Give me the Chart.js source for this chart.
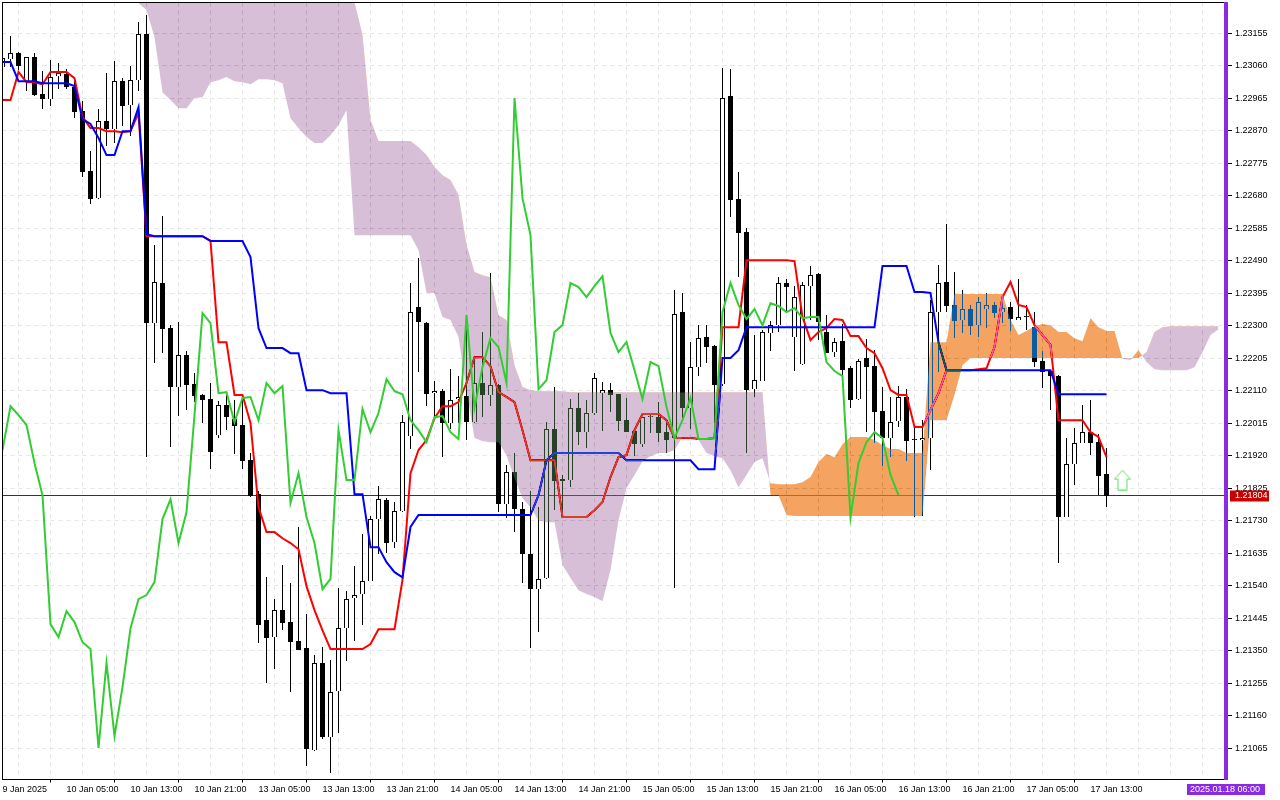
<!DOCTYPE html>
<html><head><meta charset="utf-8">
<style>html,body{margin:0;padding:0;background:#fff}canvas{display:block}</style>
<script src="https://cdn.jsdelivr.net/npm/chart.js@4/dist/chart.umd.min.js"></script>
</head><body><canvas id="c" width="1280" height="800"></canvas>
<script>
const xLabels=["9 Jan 2025","10 Jan 05:00","10 Jan 13:00","10 Jan 21:00","13 Jan 05:00","13 Jan 13:00","13 Jan 21:00","14 Jan 05:00","14 Jan 13:00","14 Jan 21:00","15 Jan 05:00","15 Jan 13:00","15 Jan 21:00","16 Jan 05:00","16 Jan 13:00","16 Jan 21:00","17 Jan 05:00","17 Jan 13:00"];
const yTicks=[1.21065,1.21160,1.21255,1.21350,1.21445,1.21540,1.21635,1.21730,1.21825,1.21920,1.22015,1.22110,1.22205,1.22300,1.22395,1.22490,1.22585,1.22680,1.22775,1.22870,1.22965,1.23060,1.23155];
const lastPrice=1.21804;
const dateTag="2025.01.18 06:00";
const opens=[1.23056,1.23080,1.23097,1.23015,1.23085,1.22977,1.22963,1.23030,1.23036,1.22998,
1.22928,1.22752,1.22673,1.22898,1.22875,1.23015,1.22945,1.23018,1.23153,1.22308,
1.22425,1.22293,1.22121,1.22214,1.22130,1.22098,1.22086,1.21980,1.22068,1.22027,
1.22010,1.21907,1.21808,1.21440,1.21390,1.21469,1.21434,1.21378,1.21358,1.21060,
1.21314,1.21098,1.21232,1.21416,1.21504,1.21516,1.21554,1.21735,1.21791,1.21668,
1.21758,1.21978,1.22355,1.22308,1.22103,1.22109,1.22016,1.22086,1.22095,1.22018,
1.22133,1.22098,1.22127,1.21779,1.21873,1.21764,1.21633,1.21530,1.21563,1.21998,
1.21852,1.21849,1.22060,1.21989,1.22045,1.22103,1.22112,1.22100,1.22024,1.21992,
1.21954,1.22033,1.22033,1.21989,1.21972,1.22340,1.22060,1.22179,1.22267,1.22241,
1.22130,1.22971,1.22670,1.22574,1.22115,1.22138,1.22279,1.22302,1.22425,1.22267,
1.22188,1.22416,1.22451,1.22282,1.22223,1.22255,1.22176,1.22086,1.22206,1.22182,
1.22051,1.21972,1.22021,1.22092,1.21969,1.21966,1.21972,1.22340,1.22428,1.22361,
1.22317,1.22349,1.22302,1.22349,1.22361,1.22340,1.22355,1.22317,1.22328,1.22296,
1.22197,1.22168,1.22153,1.21741,1.21896,1.21957,1.21989,1.21960,1.21867];
const closes=[1.23082,1.23097,1.23059,1.23085,1.22974,1.22963,1.23027,1.23039,1.22998,1.22925,
1.22749,1.22670,1.22898,1.22875,1.23015,1.22942,1.23018,1.23153,1.22308,1.22428,
1.22290,1.22121,1.22214,1.22127,1.22095,1.22083,1.21931,1.22068,1.22033,1.22007,
1.21904,1.21802,1.21425,1.21387,1.21469,1.21431,1.21375,1.21352,1.21063,1.21314,
1.21098,1.21229,1.21416,1.21501,1.21513,1.21554,1.21735,1.21793,1.21665,1.21758,
1.22018,1.22340,1.22311,1.22100,1.22109,1.22016,1.22083,1.22092,1.22018,1.22133,
1.22098,1.22127,1.21779,1.21873,1.21764,1.21633,1.21530,1.21560,1.21998,1.21846,
1.21846,1.22060,1.21989,1.22045,1.22147,1.22112,1.22098,1.22021,1.21989,1.21954,
1.22033,1.22036,1.21986,1.21966,1.22334,1.22060,1.22179,1.22264,1.22238,1.22127,
1.22966,1.22668,1.22571,1.22112,1.22141,1.22282,1.22302,1.22425,1.22413,1.22384,
1.22419,1.22448,1.22311,1.22220,1.22252,1.22170,1.22083,1.22197,1.22179,1.22048,
1.21972,1.22018,1.22092,1.21963,1.21966,1.21972,1.22340,1.22425,1.22358,1.22314,
1.22349,1.22299,1.22369,1.22361,1.22337,1.22352,1.22320,1.22326,1.22326,1.22194,
1.22165,1.22153,1.21741,1.21896,1.21957,1.21989,1.21957,1.21861,1.21804];
const highs=[1.23082,1.23147,1.23100,1.23085,1.23097,1.23044,1.23077,1.23068,1.23050,1.23024,
1.22957,1.22811,1.22933,1.23039,1.23074,1.23024,1.23059,1.23188,1.23208,1.22536,
1.22621,1.22302,1.22311,1.22226,1.22162,1.22100,1.22133,1.22080,1.22098,1.22083,
1.22089,1.21928,1.21817,1.21565,1.21501,1.21601,1.21548,1.21712,1.21457,1.21337,
1.21361,1.21323,1.21533,1.21525,1.21598,1.21691,1.21744,1.21831,1.21796,1.21785,
1.22039,1.22425,1.22498,1.22311,1.22138,1.22115,1.22173,1.22153,1.22331,1.22200,
1.22282,1.22454,1.22130,1.21893,1.21928,1.21785,1.21817,1.21770,1.22018,1.22121,
1.21864,1.22086,1.22103,1.22083,1.22162,1.22135,1.22133,1.22100,1.22089,1.21998,
1.22033,1.22045,1.22077,1.22016,1.22404,1.22396,1.22252,1.22302,1.22302,1.22244,
1.23053,1.23050,1.22749,1.22586,1.22273,1.22287,1.22314,1.22442,1.22436,1.22416,
1.22428,1.22475,1.22454,1.22331,1.22264,1.22305,1.22182,1.22203,1.22261,1.22229,
1.22121,1.22092,1.22124,1.22115,1.22001,1.22024,1.22375,1.22477,1.22597,1.22457,
1.22404,1.22361,1.22384,1.22396,1.22369,1.22390,1.22369,1.22436,1.22361,1.22340,
1.22226,1.22170,1.22156,1.21972,1.22001,1.22068,1.22083,1.21983,1.21943];
const lows=[1.23047,1.23056,1.23047,1.22986,1.22971,1.22933,1.22942,1.22992,1.22992,1.22907,
1.22735,1.22656,1.22670,1.22825,1.22834,1.22884,1.22854,1.22986,1.21916,1.22191,
1.22220,1.21945,1.22036,1.22054,1.22077,1.22016,1.21881,1.21972,1.21995,1.21925,
1.21881,1.21799,1.21372,1.21256,1.21297,1.21410,1.21229,1.21352,1.21013,1.21057,
1.21092,1.20993,1.21109,1.21320,1.21378,1.21425,1.21554,1.21633,1.21636,1.21650,
1.21755,1.21940,1.22165,1.22065,1.22033,1.21916,1.21998,1.22016,1.21966,1.22016,
1.22033,1.22065,1.21755,1.21738,1.21697,1.21548,1.21358,1.21405,1.21560,1.21761,
1.21741,1.21828,1.21951,1.21943,1.22039,1.21992,1.22048,1.21992,1.21989,1.21919,
1.21945,1.21986,1.21960,1.21928,1.21533,1.22030,1.21998,1.22153,1.22191,1.22016,
1.22124,1.22618,1.22442,1.21928,1.22092,1.22138,1.22226,1.22282,1.22337,1.22168,
1.22185,1.22317,1.22258,1.22220,1.22208,1.22156,1.22060,1.22083,1.21989,1.21957,
1.21890,1.21916,1.22004,1.21904,1.21741,1.21744,1.21878,1.22165,1.22340,1.22264,
1.22279,1.22273,1.22267,1.22293,1.22322,1.22308,1.22285,1.22317,1.22287,1.22179,
1.22118,1.22054,1.21607,1.21741,1.21834,1.21957,1.21922,1.21805,1.21770];
const tenkan=[1.22960,1.22960,1.23042,1.23012,1.23012,1.23006,1.23042,1.23042,1.23042,1.23024,
1.22910,1.22878,1.22878,1.22869,1.22869,1.22866,1.22869,1.22922,1.22562,1.22562,
1.22562,1.22562,1.22562,1.22562,1.22562,1.22562,1.22548,1.22252,1.22252,1.22098,
1.22098,1.22016,1.21770,1.21697,1.21697,1.21679,1.21665,1.21647,1.21539,1.21469,
1.21410,1.21355,1.21355,1.21355,1.21355,1.21355,1.21370,1.21413,1.21413,1.21413,
1.21557,1.21869,1.21937,1.21966,1.22030,1.22065,1.22065,1.22077,1.22133,1.22208,
1.22208,1.22182,1.22106,1.22092,1.22077,1.21995,1.21907,1.21907,1.21907,1.21907,
1.21741,1.21741,1.21741,1.21741,1.21761,1.21785,1.21858,1.21916,1.21922,1.21995,
1.22042,1.22042,1.22042,1.22024,1.21972,1.21972,1.21972,1.21969,1.21969,1.21972,
1.22296,1.22296,1.22296,1.22492,1.22492,1.22492,1.22492,1.22492,1.22492,1.22489,
1.22326,1.22258,1.22282,1.22293,1.22320,1.22317,1.22270,1.22270,1.22235,1.22220,
1.22176,1.22112,1.22098,1.22098,1.22004,1.22004,1.22054,1.22103,1.22170,1.22170,
1.22170,1.22170,1.22173,1.22176,1.22238,1.22384,1.22428,1.22361,1.22355,1.22302,
1.22273,1.22244,1.22024,1.22024,1.22024,1.22024,1.21989,1.21975,1.21916];
const kijun=[1.23071,1.23071,1.23015,1.23015,1.23015,1.23009,1.23009,1.23009,1.23009,1.23001,
1.22904,1.22890,1.22849,1.22799,1.22799,1.22869,1.22869,1.22939,1.22568,1.22562,
1.22562,1.22562,1.22562,1.22562,1.22562,1.22562,1.22548,1.22548,1.22548,1.22548,
1.22548,1.22501,1.22293,1.22235,1.22235,1.22235,1.22220,1.22220,1.22112,1.22112,
1.22112,1.22103,1.22103,1.22103,1.21808,1.21808,1.21653,1.21653,1.21609,1.21580,
1.21565,1.21712,1.21747,1.21747,1.21747,1.21747,1.21747,1.21747,1.21747,1.21747,
1.21747,1.21747,1.21747,1.21747,1.21747,1.21747,1.21747,1.21805,1.21907,1.21928,
1.21928,1.21928,1.21928,1.21928,1.21928,1.21928,1.21928,1.21928,1.21907,1.21907,
1.21907,1.21907,1.21907,1.21907,1.21907,1.21907,1.21907,1.21881,1.21881,1.21881,
1.22206,1.22206,1.22229,1.22296,1.22296,1.22296,1.22296,1.22296,1.22296,1.22296,
1.22296,1.22296,1.22296,1.22296,1.22296,1.22296,1.22296,1.22296,1.22296,1.22296,
1.22475,1.22475,1.22475,1.22475,1.22399,1.22399,1.22396,1.22252,1.22170,1.22170,
1.22170,1.22170,1.22170,1.22170,1.22170,1.22170,1.22170,1.22170,1.22170,1.22170,
1.22170,1.22170,1.22100,1.22100,1.22100,1.22100,1.22100,1.22100,1.22100];
const chikou=[1.21937,1.22065,1.22039,1.22010,1.21899,1.21805,1.21428,1.21390,1.21466,1.21434,
1.21375,1.21355,1.21066,1.21314,1.21101,1.21244,1.21416,1.21501,1.21513,1.21551,
1.21735,1.21793,1.21665,1.21755,1.22039,1.22337,1.22308,1.22103,1.22106,1.22018,
1.22089,1.22092,1.22024,1.22133,1.22103,1.22124,1.21782,1.21869,1.21741,1.21665,
1.21530,1.21560,1.21995,1.21849,1.21849,1.22057,1.21989,1.22045,1.22144,1.22109,
1.22100,1.22024,1.21995,1.21960,1.22033,1.22036,1.21989,1.21969,1.22331,1.22060,
1.22179,1.22264,1.22238,1.22133,1.22966,1.22673,1.22565,1.22115,1.22141,1.22282,
1.22302,1.22425,1.22413,1.22384,1.22416,1.22445,1.22279,1.22223,1.22252,1.22170,
1.22086,1.22194,1.22182,1.22063,1.21972,1.22024,1.22089,1.21969,1.21969,1.21972,
1.22340,1.22425,1.22361,1.22320,1.22349,1.22302,1.22366,1.22358,1.22340,1.22352,
1.22322,1.22326,1.22326,1.22194,1.22168,1.22153,1.21741,1.21899,1.21960,1.21989,
1.21972,1.21864,1.21805];
const spanStart=17;
const spanA=[1.23243,1.23223,1.23144,1.22983,1.22960,1.22936,1.22936,1.22966,1.22968,1.23012,
1.23018,1.23027,1.23015,1.23012,1.23006,1.23021,1.23021,1.23018,1.23009,1.22907,
1.22878,1.22852,1.22834,1.22834,1.22857,1.22887,1.22930,1.22565,1.22565,1.22565,
1.22565,1.22565,1.22565,1.22565,1.22565,1.22521,1.22396,1.22396,1.22326,1.22317,1.22267,
1.22112,1.21972,1.21963,1.21960,1.21960,1.21922,1.21855,1.21796,1.21770,1.21732,
1.21726,1.21726,1.21601,1.21563,1.21527,1.21516,1.21507,1.21495,1.21586,1.21732,
1.21826,1.21864,1.21904,1.21919,1.21928,1.21928,1.21937,1.21975,1.21972,1.21966,
1.21928,1.21919,1.21913,1.21878,1.21828,1.21864,1.21902,1.21913,1.21840,1.21837,
1.21837,1.21837,1.21843,1.21858,1.21902,1.21925,1.21916,1.21954,1.21975,1.21975,
1.21975,1.21966,1.21951,1.21940,1.21940,1.21928,1.21928,1.21928,1.22252,1.22252,
1.22252,1.22393,1.22393,1.22393,1.22393,1.22393,1.22393,1.22393,1.22317,1.22273,
1.22285,1.22299,1.22305,1.22302,1.22282,1.22282,1.22264,1.22255,1.22322,1.22296,
1.22285,1.22285,1.22203,1.22200,1.22229,1.22194,1.22173,1.22170,1.22170,1.22170,
1.22170,1.22179,1.22223,1.22273,1.22290];
const spanB=[1.23281,1.23281,1.23281,1.23281,1.23281,1.23281,1.23281,1.23281,1.23281,1.23281,
1.23281,1.23281,1.23281,1.23281,1.23281,1.23281,1.23281,1.23281,1.23281,1.23281,
1.23281,1.23281,1.23281,1.23281,1.23281,1.23281,1.23281,1.23246,1.23150,1.22901,
1.22840,1.22840,1.22840,1.22840,1.22840,1.22822,1.22799,1.22764,1.22740,1.22726,
1.22682,1.22536,1.22457,1.22448,1.22442,1.22331,1.22317,1.22185,1.22121,1.22112,
1.22109,1.22109,1.22109,1.22109,1.22106,1.22106,1.22106,1.22106,1.22106,1.22106,
1.22106,1.22106,1.22106,1.22106,1.22106,1.22106,1.22106,1.22106,1.22106,1.22106,
1.22106,1.22106,1.22106,1.22106,1.22106,1.22106,1.22106,1.22106,1.22106,1.21805,1.21805,
1.21747,1.21744,1.21744,1.21744,1.21744,1.21744,1.21744,1.21744,1.21744,1.21744,
1.21744,1.21744,1.21744,1.21744,1.21744,1.21744,1.21744,1.21744,1.22024,1.22024,
1.22024,1.22098,1.22185,1.22206,1.22206,1.22206,1.22206,1.22206,1.22206,1.22206,
1.22206,1.22206,1.22206,1.22206,1.22206,1.22206,1.22206,1.22206,1.22206,1.22206,
1.22206,1.22206,1.22206,1.22206,1.22206,1.22223,1.22282,1.22296,1.22299,1.22299,
1.22299,1.22299,1.22299,1.22299,1.22299];
const signalIndex=140, signalPrice=1.21849;

const toPoints=(vals,first=0)=>vals.map((y,k)=>({x:first+k,y}));
const UI_FONT='"Liberation Sans"';
const PX=0.00002923;
const yMax=lastPrice+493*PX, yMin=lastPrice-284*PX;
const xMax=(1225-2.5)/8;

function arrowIcon(){
  const c=document.createElement('canvas');c.width=18;c.height=21;
  const g=c.getContext('2d');
  g.beginPath();g.moveTo(9,0.7);g.lineTo(17,9.5);g.lineTo(13.5,9.5);g.lineTo(13.5,20.3);g.lineTo(4.5,20.3);g.lineTo(4.5,9.5);g.lineTo(1,9.5);g.closePath();
  g.fillStyle='#fff';g.fill();g.lineWidth=1;g.strokeStyle='#5fe05f';g.stroke();
  return c;
}

const bodyColor=opens.map((o,i)=>closes[i]>=o?'#ffffff':'#000000');

const frame={
  id:'frame',
  beforeDraw(ch){const g=ch.ctx;g.save();g.fillStyle='#fff';g.fillRect(0,0,ch.width,ch.height);g.restore();},
  afterDatasetUpdate(ch,args){
    const m=args.meta;
    if(m.type==='bar'){m.data.forEach(e=>{e.y=Math.round(e.y);e.base=Math.round(e.base);});}
  },
  afterDatasetDraw(ch,args){
    const lab=ch.data.datasets[args.index].label;
    if(lab==='Kijun') ch.ctx.globalCompositeOperation='difference';
    if(lab==='Senkou A') ch.ctx.globalCompositeOperation='source-over';
  },
  afterDraw(ch){
    const g=ch.ctx,a=ch.chartArea;
    g.save();
    g.fillStyle='#000';
    g.fillRect(2,2,a.right-2,1);
    g.fillRect(2,2,1,778);
    g.fillStyle='#8a2be2';
    g.fillRect(1224,2,4,778);
    const py=ch.scales.y.getPixelForValue(lastPrice);
    g.fillStyle='#c80000';
    g.fillRect(1230,py-5,39,11);
    g.fillStyle='#fff';
    g.font='9px '+UI_FONT;
    g.textBaseline='middle';g.textAlign='left';
    g.fillText(lastPrice.toFixed(5),1235,py+0.5);
    g.fillStyle='#8a2be2';
    g.fillRect(1187,784,78,11);
    g.fillStyle='#fff';
    g.fillText(dateTag,1190,789.5);
    g.restore();
  }
};

const xTickVals=[];for(let v=0;v<=152;v+=4)xTickVals.push(v);
const isLabelled=v=>v%8===0&&v/8<xLabels.length;

const LINE={type:'line',tension:0,pointRadius:0,fill:false};
new Chart(document.getElementById('c').getContext('2d'),{
  data:{datasets:[
    {...LINE,label:'Price',data:[{x:0,y:lastPrice},{x:xMax+1,y:lastPrice}],borderColor:'#b00000',borderWidth:1,order:9},
    {type:'bar',label:'Wicks',data:lows.map((l,i)=>({x:i,y:[l,highs[i]]})),backgroundColor:'#000',barThickness:1,grouped:false,inflateAmount:0,order:8},
    {type:'bar',label:'Bodies',data:opens.map((o,i)=>({x:i,y:[o,closes[i]]})),backgroundColor:bodyColor,borderColor:'#000',borderWidth:1,barThickness:5,grouped:false,inflateAmount:0,order:7},
    {...LINE,label:'Senkou B',data:toPoints(spanB,spanStart),borderWidth:0,borderColor:'transparent',order:10},
    {...LINE,label:'Tenkan',data:toPoints(tenkan),borderColor:'#ff0000',borderWidth:2,order:6},
    {...LINE,label:'Kijun',data:toPoints(kijun),borderColor:'#0000ff',borderWidth:2,order:5},
    {...LINE,label:'Senkou A',data:toPoints(spanA,spanStart),borderWidth:0,borderColor:'transparent',order:4,
      fill:{target:3,above:'rgb(11,91,159)',below:'rgb(39,64,39)'}},
    {...LINE,label:'Chikou',data:toPoints(chikou),borderColor:'#32cd32',borderWidth:2,order:2},
    {type:'scatter',label:'Signal',data:[{x:signalIndex,y:signalPrice}],pointStyle:arrowIcon(),pointRadius:9,showLine:false,order:1}
  ]},
  plugins:[frame],
  options:{
    responsive:false,animation:false,devicePixelRatio:1,
    layout:{autoPadding:false,padding:{left:2.5,top:2.5,right:0,bottom:0}},
    plugins:{legend:{display:false},tooltip:{enabled:false}},
    events:[],
    scales:{
      x:{type:'linear',min:0,max:xMax,offset:false,
        afterFit(s){s.height=20.5;s.paddingLeft=0;s.paddingRight=0;},
        afterBuildTicks(s){s.ticks=xTickVals.map(value=>({value}));},
        grid:{color:'#e6e6e6',tickLength:3,tickColor:c=>(c.tick&&isLabelled(c.tick.value))?'#000':'rgba(0,0,0,0)',tickBorderDash:[]},
        border:{color:'#000',width:1,dash:[4,4]},
        ticks:{autoSkip:false,maxRotation:0,minRotation:0,align:'start',padding:2,color:'#000',font:{family:UI_FONT,size:9},
          callback:v=>isLabelled(v)?xLabels[v/8]:''}
      },
      y:{type:'linear',position:'right',min:yMin,max:yMax,
        afterFit(s){s.width=55;s.paddingTop=0;s.paddingBottom=0;},
        afterBuildTicks(s){s.ticks=yTicks.map(value=>({value}));},
        grid:{color:'#e6e6e6',tickLength:7,tickColor:'#000',tickBorderDash:[]},
        border:{color:'#000',width:1,dash:[4,4]},
        ticks:{autoSkip:false,padding:3,color:'#000',font:{family:UI_FONT,size:9},callback:v=>Number(v).toFixed(5)}
      }
    }
  }
});
</script></body></html>
